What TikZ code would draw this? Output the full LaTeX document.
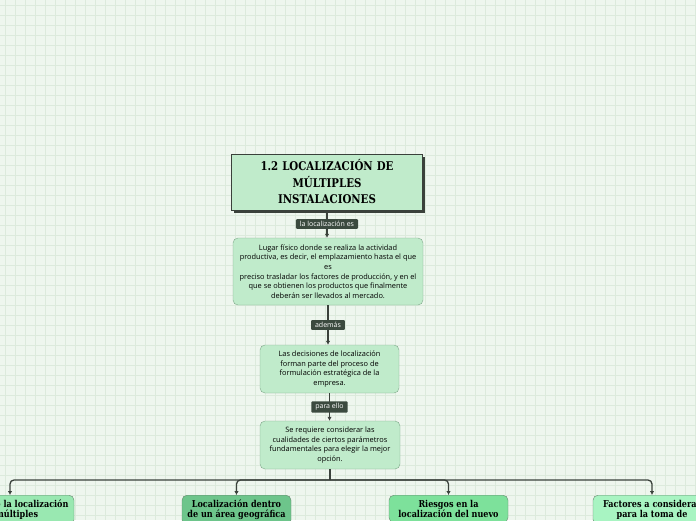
\documentclass[tikz,border=0pt]{standalone}
\usepackage{fontspec}
\setmainfont{Open Sans}
\newfontfamily\slab{DejaVu Serif}[FakeStretch=0.85]
\usetikzlibrary{arrows.meta}

\definecolor{paper}{HTML}{EEF6EE}
\definecolor{gridln}{HTML}{DCEADC}
\definecolor{ink}{HTML}{3A413B}
\definecolor{mint}{HTML}{C0EBCB}
\definecolor{mintline}{HTML}{7FA88A}
\definecolor{tagfill}{HTML}{3B4A3F}
\definecolor{kidA}{HTML}{99E8B1}
\definecolor{kidB}{HTML}{6DC58B}
\definecolor{kidC}{HTML}{7DE19B}
\definecolor{kidD}{HTML}{A8F4C2}

\begin{document}
\begin{tikzpicture}[
        x=1pt, y=-1pt,
        >={Latex[length=4pt,width=4.5pt]},
        headbox/.style={
            rectangle,
            draw=ink,
            fill=mint,
            align=center,
            text width=175pt,
            minimum width=191pt,
            minimum height=56pt,
            font=\slab\bfseries\fontsize{12}{16.5}\selectfont
        },
        textbox/.style={
            rectangle,
            rounded corners=5pt,
            draw=mintline,
            fill=mint,
            align=center,
            font=\fontsize{7.4}{9.6}\selectfont
        },
        kid/.style={
            rectangle,
            rounded corners=5pt,
            draw=mintline!80!black,
            anchor=north,
            align=center,
            inner sep=5pt,
            font=\slab\bfseries\fontsize{9.5}{10}\selectfont
        },
        tag/.style={
            rectangle,
            rounded corners=1pt,
            fill=tagfill,
            text=white,
            inner xsep=4pt,
            inner ysep=2.2pt,
            font=\fontsize{7}{8}\selectfont
        },
        line/.style={
            line width=1.3pt,
            draw=ink
        },
        arrow/.style={
            line,
            ->
        }
    ]

    % background
    \fill[paper] (0,0) rectangle (696,520);
    \clip (0,0) rectangle (696,520);
    \foreach \g in {5,15,...,695}
        \draw[gridln, line width=0.6pt] (\g,0) -- (\g,520);
    \foreach \g in {5,15,...,515}
        \draw[gridln, line width=0.6pt] (0,\g) -- (696,\g);

    \fill[ink] (233.5,157) rectangle (424.5,213);
    \node[headbox] (title) at (327,182)
        {1.2 LOCALIZACIÓN DE\\MÚLTIPLES\\INSTALACIONES};

    \node[textbox, minimum width=190pt, minimum height=67pt] (meaning) at (328,271.5)
    {Lugar físico donde se realiza la actividad\\
     productiva, es decir, el emplazamiento hasta el que\\
     es\\
     preciso trasladar los factores de producción, y en el\\
     que se obtienen los productos que finalmente\\
     deberán ser llevados al mercado.};

    \node[textbox, minimum width=139pt, minimum height=48pt] (strategy) at (329.5,369)
    {Las decisiones de localización\\
     forman parte del proceso de\\
     formulación estratégica de la\\
     empresa.};

    \node[textbox, minimum width=140pt, minimum height=48pt] (criteria) at (330,445)
    {Se requiere considerar las\\
     cualidades de ciertos parámetros\\
     fundamentales para elegir la mejor\\
     opción.};

    \node[kid, fill=kidA, minimum width=128pt] (kidA) at (10,495)
        {Análisis de la localización\\de múltiples};
    \node[kid, fill=kidB, minimum width=109pt] (kidB) at (236.5,495)
        {Localización dentro\\de un área geográfica};
    \node[kid, fill=kidC, minimum width=119pt] (kidC) at (448.5,495)
        {Riesgos en la\\localización del nuevo};
    \node[kid, fill=kidD, minimum width=118pt] (kidD) at (652,495)
        {Factores a considerar\\para la toma de};

    \coordinate (bus) at (330,480);

    \draw[arrow] (title.south) -- node[tag] {la localización es} (title.south |- meaning.north);
    \draw[arrow] (meaning.south) -- node[tag] {además} (meaning.south |- strategy.north);
    \draw[arrow] (strategy.south) -- node[tag] {para ello} (strategy.south |- criteria.north);

    \draw[line] (criteria.south) -- (bus);
    \draw[arrow, rounded corners=4pt] (bus) -| (kidA.north);
    \draw[arrow, rounded corners=4pt] (bus) -| (kidB.north);
    \draw[arrow, rounded corners=4pt] (bus) -| (kidC.north);
    \draw[arrow, rounded corners=4pt] (bus) -| (kidD.north);

    \end{tikzpicture}
\end{document}
